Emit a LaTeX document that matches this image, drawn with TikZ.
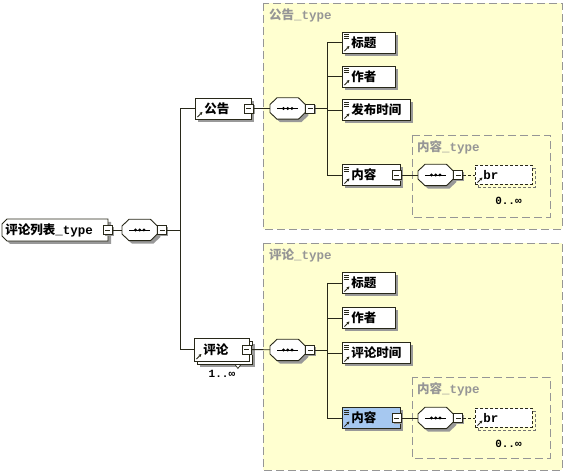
\documentclass[tikz,border=0pt]{standalone}
\usepackage{fontspec}
\usepackage{xcolor}
\usepackage{tikz}
\usetikzlibrary{arrows.meta,positioning,shadows,calc}
\newfontfamily\cjk{Noto Sans CJK SC}
\newfontfamily\lat{Liberation Mono}
\definecolor{xsdyellow}{RGB}{255,255,208}
\definecolor{xsdblue}{RGB}{166,200,240}
\definecolor{xsdgray}{RGB}{150,150,150}
\definecolor{xsdline}{RGB}{40,40,25}
\newcommand{\zh}[1]{{\cjk\bfseries #1}}
\newcommand{\tp}[1]{{\lat\bfseries #1}}
% small icons inside the element boxes
\newcommand{\refmark}{\draw[solid, line width=0.8pt, -{Stealth[length=3pt,width=3pt]}]
  ([shift={(2pt,2pt)}]path picture bounding box.south west) -- ++(5pt,5pt);}
\newcommand{\txtmark}{\foreach \k in {2.5,4.5,6.5}
  \draw[solid, line width=0.6pt] ([shift={(2pt,-\k pt)}]path picture bounding box.north west) -- ++(5pt,0pt);}
% sequence compositor: octagon with the dotted bar
\newcommand{\seqbox}[2]{%
  \node[seq] (#1) at (#2) {};
  \draw[shade, draw=xsdline, fill=white, line width=0.9pt]
    ($(#1.north west)+(7pt,0pt)$) -- ($(#1.north east)+(-7pt,0pt)$) -- ($(#1.east)+(0pt,4pt)$)
    -- ($(#1.east)+(0pt,-4pt)$) -- ($(#1.south east)+(-7pt,0pt)$) -- ($(#1.south west)+(7pt,0pt)$)
    -- ($(#1.west)+(0pt,-4pt)$) -- ($(#1.west)+(0pt,4pt)$) -- cycle;
  \draw[line width=0.9pt] ([xshift=7pt]#1.west) -- ([xshift=-7pt]#1.east);
  \foreach \d in {-4.2,0,4.2} \fill ([xshift=\d pt]#1.center) circle (1.6pt);
  \node[minus, anchor=west] (#1m) at (#1.east) {};}

\begin{document}
\begin{tikzpicture}[x=1pt, y=-1pt, font=\fontsize{12.5}{14}\selectfont,
  conn/.style={draw=xsdline, line width=0.9pt},
  optconn/.style={conn, densely dashed},
  region/.style={draw=xsdgray, fill=xsdyellow, line width=0.9pt, dash pattern=on 8pt off 4pt},
  regname/.style={anchor=west, inner sep=0pt, text=xsdgray},
  shade/.style={drop shadow={shadow xshift=3pt, shadow yshift=-3pt, fill=black!40, opacity=1}},
  pad/.style={execute at begin node={\hspace*{#1}}},
  box/.style={draw=xsdline, fill=white, line width=0.9pt, anchor=west, minimum height=21pt,
    inner xsep=0pt, inner ysep=0pt, text width=#1, align=left},
  leaf/.style={shade, box=#1, pad=9pt, path picture={\txtmark\refmark}},
  group/.style={shade, box=#1, pad=9pt, path picture={\refmark}},
  many/.style={drop shadow={shadow xshift=6pt, shadow yshift=-6pt, fill=black!40, opacity=1},
    copy shadow={shadow xshift=3pt, shadow yshift=-3pt}, box=#1, pad=9pt, minimum height=23pt, path picture={\refmark}},
  anyel/.style={drop shadow={shadow xshift=3pt, shadow yshift=-3pt, fill=none, draw=black!55, densely dashed, opacity=1},
    box=#1, pad=8pt, densely dashed, minimum height=19pt, path picture={\refmark}},
  rootbox/.style={box=#1, pad=3pt, draw=none, fill=none, minimum height=22pt},
  seq/.style={anchor=west, minimum width=35pt, minimum height=21pt, inner sep=0pt},
  minus/.style={draw=xsdline, fill=white, line width=0.7pt, minimum size=9pt, inner sep=0pt,
    drop shadow={shadow xshift=1.5pt, shadow yshift=-1.5pt, fill=black!40, opacity=1},
    path picture={\draw[line width=0.7pt] ([xshift=2pt]path picture bounding box.west) -- ([xshift=-2pt]path picture bounding box.east);}},
  mult/.style={font=\lat\bfseries\fontsize{11}{12}\selectfont, inner sep=0pt}]
  \useasboundingbox (0,0) rectangle (566,473);
  % ---- type regions (background) ----
  \draw[region] (263,3) rectangle (562,229);
  \node[regname] (gg-type) at (269,15) {\zh{公告}\tp{\_type}};
  \draw[region] (412,135) rectangle (550,217);
  \node[regname] (ggc-type) at (417,147) {\zh{内容}\tp{\_type}};
  \draw[region] (263,243) rectangle (562,470);
  \node[regname] (pl-type) at (269,255) {\zh{评论}\tp{\_type}};
  \draw[region] (412,377) rectangle (550,458);
  \node[regname] (plc-type) at (417,389) {\zh{内容}\tp{\_type}};
  % ---- root (complex type, cut left corners) ----
  \draw[shade, draw=xsdline, fill=white, line width=0.9pt]
    (7,219) -- (108,219) -- (108,241) -- (7,241) -- (2,236) -- (2,224) -- cycle;
  \node[rootbox=106pt] (lst) at (2,230) {\zh{评论列表}\tp{\_type}};
  \node[minus] (lst-m) at ([xshift=-1pt]lst.east) {};
  \seqbox{lst-s}{122,230}
  \coordinate (lst-t) at (180,230);
  \draw[conn] (lst-m) -- (lst-s);
  \draw[conn] (lst-sm) -- (lst-t);
  % ---- 公告 ----
  \node[group=56pt] (gg) at (195,108.5) {\zh{公告}};
  \node[minus] (gg-m) at ([xshift=-3pt]gg.east) {};
  \seqbox{gg-s}{270,108.5}
  \coordinate (gg-t) at (327,108.5);
  \draw[conn] (gg-m) -- (gg-s);
  \draw[conn] (gg-sm) -- (gg-t);
  \foreach \n/\t/\w/\y in {gg1/标题/53/42.5, gg2/作者/53/76.5, gg3/发布时间/68/110}
    \node[leaf=\w pt] (\n) at (342,\y) {\zh{\t}};
  \node[leaf=58pt] (gg4) at (342,175) {\zh{内容}};
  \draw[conn] (gg-t |- gg1.west) -- (gg-t |- gg4.west);
  \foreach \n in {gg1,gg2,gg3,gg4}
    \draw[conn] (gg-t |- \n.west) -- (\n);
  % 内容 of 公告
  \node[minus] (gg4-m) at ([xshift=-4pt]gg4.east) {};
  \seqbox{gg4-s}{418,175}
  \node[anyel=57pt] (gg-br) at (475,175) {\tp{br}};
  \node[mult] (gg-brn) at ($(gg-br.south)+(4.5,16)$) {0..∞};
  \draw[conn] (gg4-m) -- (gg4-s);
  \draw[optconn] (gg4-sm) -- (gg-br);
  % ---- 评论 (repeating) ----
  \node[many=55pt] (pl) at (194,349.5) {\zh{评论}};
  \draw[draw=xsdline, fill=white, line width=0.7pt]
    ($(pl.south)+(13pt,-3pt)$) -- ++(6pt,0pt) -- ++(-3pt,-4pt) -- cycle;
  \node[mult, below=9pt of pl] (pl-n) {1..∞};
  \node[minus] (pl-m) at ([xshift=-3pt]pl.east) {};
  \seqbox{pl-s}{270,350}
  \coordinate (pl-t) at (327,350);
  \draw[conn] (pl-m) -- (pl-s);
  \draw[conn] (pl-sm) -- (pl-t);
  \foreach \n/\t/\w/\y in {pl1/标题/53/283, pl2/作者/53/318, pl3/评论时间/68/353}
    \node[leaf=\w pt] (\n) at (342,\y) {\zh{\t}};
  \node[leaf=58pt, fill=xsdblue] (pl4) at (342,418) {\zh{内容}};
  \draw[conn] (pl-t |- pl1.west) -- (pl-t |- pl4.west);
  \foreach \n in {pl1,pl2,pl3,pl4}
    \draw[conn] (pl-t |- \n.west) -- (\n);
  % 内容 of 评论
  \node[minus] (pl4-m) at ([xshift=-4pt]pl4.east) {};
  \seqbox{pl4-s}{418,418}
  \node[anyel=57pt] (pl-br) at (475,418) {\tp{br}};
  \node[mult] (pl-brn) at ($(pl-br.south)+(4.5,16)$) {0..∞};
  \draw[conn] (pl4-m) -- (pl4-s);
  \draw[optconn] (pl4-sm) -- (pl-br);
  % ---- root trunk ----
  \draw[conn] (lst-t |- gg.west) -- (lst-t |- pl.west);
  \draw[conn] (lst-t |- gg.west) -- (gg);
  \draw[conn] (lst-t |- pl.west) -- (pl);
\end{tikzpicture}
\end{document}
